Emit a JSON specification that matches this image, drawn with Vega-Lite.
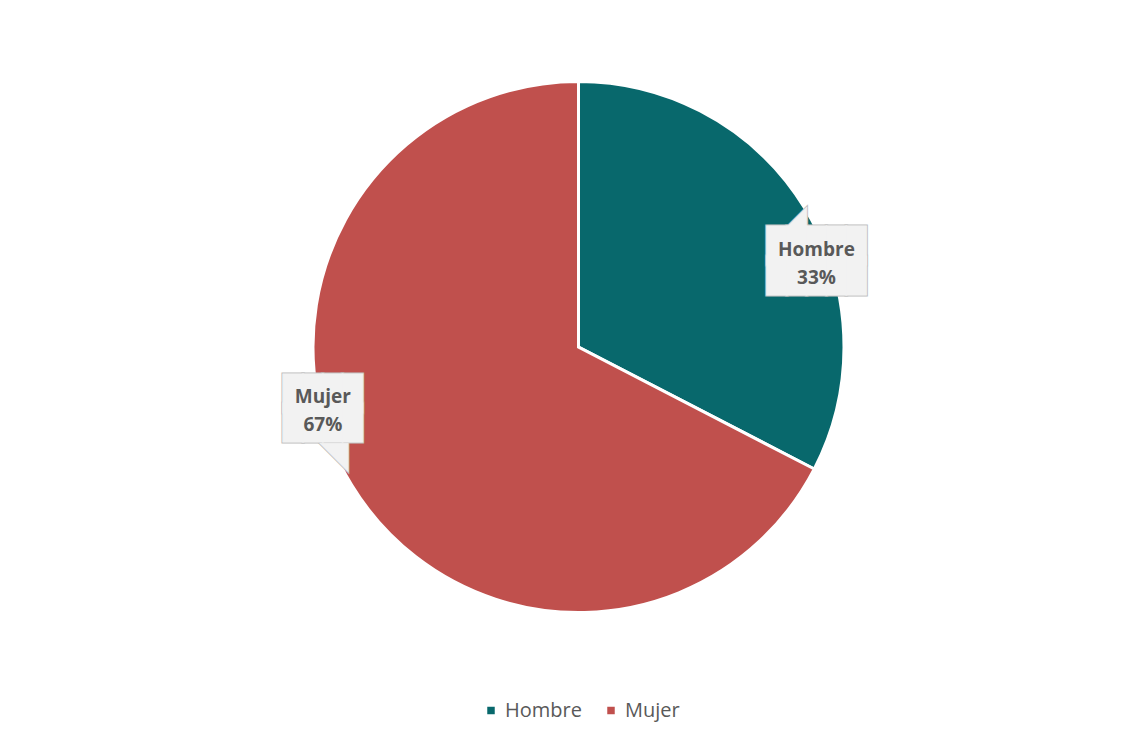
{
  "$schema": "https://vega.github.io/schema/vega-lite/v6.json",
  "autosize": {"type": "none"},
  "width": 531,
  "height": 531,
  "padding": {"left": 313, "top": 81.5, "right": 294, "bottom": 131.5},
  "background": "white",
  "config": {"view": {"stroke": null}},
  "data": {
    "values": [
      {"cat": "Hombre", "value": 32.6, "label": "Hombre\n33%"},
      {"cat": "Mujer", "value": 67.4, "label": "Mujer\n67%"}
    ]
  },
  "layer": [
    {
      "mark": {"type": "arc", "stroke": "white", "strokeWidth": 3, "radius": 265.5},
      "encoding": {
        "theta": {"field": "value", "type": "quantitative", "stack": true},
        "color": {
          "field": "cat",
          "type": "nominal",
          "scale": {"domain": ["Hombre", "Mujer"], "range": ["#08686C", "#C0504D"]},
          "legend": {
            "title": null,
            "orient": "none",
            "legendX": 168,
            "legendY": 619,
            "direction": "horizontal",
            "symbolType": "square",
            "symbolSize": 56,
            "symbolStrokeWidth": 0,
            "labelFont": "Open Sans",
            "labelFontSize": 20,
            "labelColor": "#595959",
            "labelOffset": 4,
            "columnPadding": 19
          }
        }
      }
    },
    {
      "mark": {"type": "text", "radius": 260.35, "font": "DejaVu Sans", "align": "center", "baseline": "middle", "dx": -8.07, "fill": "#BFBFBF", "stroke": "#BFBFBF", "strokeWidth": 2.5},
      "encoding": {
        "theta": {"field": "value", "type": "quantitative", "stack": true, "scale": {"range": [-0.0056, 6.4590]}},
        "text": {"condition": {"test": "datum.cat === 'Hombre'", "value": "◢"}, "value": "◥"},
        "size": {"condition": {"test": "datum.cat === 'Hombre'", "value": 27.7}, "value": 37}
      }
    },
    {
      "mark": {"type": "text", "radius": 258, "font": "DejaVu Sans Mono", "fontSize": 32.9, "lineHeight": 29.7, "lineBreak": "\n", "align": "center", "baseline": "middle", "dx": -4.93, "dy": -13, "fill": "#BFBFBF", "stroke": "#BFBFBF", "strokeWidth": 3},
      "encoding": {
        "theta": {"field": "value", "type": "quantitative", "stack": true, "scale": {"range": [0.1683, 6.6635]}},
        "text": {"condition": {"test": "datum.cat === 'Hombre'", "value": "█████\n█████"}, "value": "████\n████"}
      }
    },
    {
      "mark": {"type": "text", "radius": 258, "font": "DejaVu Sans Mono", "fontSize": 32.9, "lineHeight": 29.7, "lineBreak": "\n", "align": "center", "baseline": "middle", "dx": -4.93, "dy": -13, "fill": "#F2F2F2", "stroke": "#F2F2F2", "strokeWidth": 1},
      "encoding": {
        "theta": {"field": "value", "type": "quantitative", "stack": true, "scale": {"range": [0.1683, 6.6635]}},
        "text": {"condition": {"test": "datum.cat === 'Hombre'", "value": "█████\n█████"}, "value": "████\n████"}
      }
    },
    {
      "mark": {"type": "text", "radius": 260.35, "font": "DejaVu Sans", "align": "center", "baseline": "middle", "dx": -8.07, "fill": "#F2F2F2", "stroke": "#F2F2F2", "strokeWidth": 0.5},
      "encoding": {
        "theta": {"field": "value", "type": "quantitative", "stack": true, "scale": {"range": [-0.0056, 6.4590]}},
        "text": {"condition": {"test": "datum.cat === 'Hombre'", "value": "◢"}, "value": "◥"},
        "size": {"condition": {"test": "datum.cat === 'Hombre'", "value": 27.7}, "value": 37}
      }
    },
    {
      "mark": {"type": "text", "radius": 258, "font": "Open Sans", "fontSize": 19, "fontWeight": "bold", "lineHeight": 28, "lineBreak": "\n", "align": "center", "baseline": "middle", "dx": -4.93, "dy": -10.5, "fill": "#595959"},
      "encoding": {
        "theta": {"field": "value", "type": "quantitative", "stack": true, "scale": {"range": [0.1683, 6.6635]}},
        "text": {"field": "label", "type": "nominal"}
      }
    }
  ],
  "resolve": {"scale": {"theta": "independent"}}
}
